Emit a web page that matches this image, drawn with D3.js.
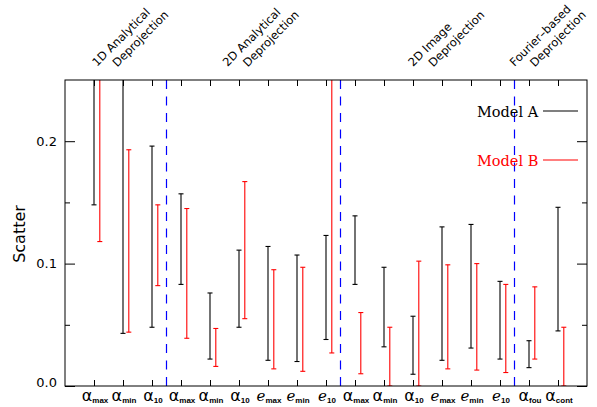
<html>
<script src='https://d3js.org/d3.v7.min.js'></script>
<style>
  body { margin: 0; background: white; }
  text { font-family: 'DejaVu Sans', sans-serif; }
</style>
<body>
<svg width=597 height=407></svg>
<script>
// ---- data ----
const symbols = ["α","α","α","α","α","α","e","e","e","α","α","α","e","e","e","α","α"];
const subs    = ["max","min","10","max","min","10","max","min","10","max","min","10","max","min","10","fou","cont"];
const modelAHigh = [0.30, 0.30, 0.196, 0.157, 0.076, 0.111, 0.114, 0.107, 0.123, 0.139, 0.097, 0.057, 0.130, 0.132, 0.0855, 0.037, 0.146];
const modelALow  = [0.148, 0.043, 0.048, 0.083, 0.022, 0.048, 0.021, 0.020, 0.038, 0.083, 0.032, 0.0096, 0.021, 0.031, 0.022, 0.015, 0.045];
const modelBHigh = [0.30, 0.193, 0.148, 0.145, 0.047, 0.167, 0.095, 0.097, 0.30, 0.060, 0.048, 0.102, 0.099, 0.100, 0.083, 0.081, 0.048];
const modelBLow  = [0.118, 0.044, 0.082, 0.039, 0.016, 0.055, 0.014, 0.012, 0.027, 0.010, 0.0, 0.0, 0.014, 0.013, 0.011, 0.022, 0.0];
const groupNames = [["1D Analytical", "Deprojection"], ["2D Analytical", "Deprojection"], ["2D Image", "Deprojection"], ["Fourier\u2013based", "Deprojection"]];
const groupAt = [1.1, 5.6, 12.0, 15.5];
const dividers = [3.5, 9.5, 15.5];
const yMajor = [0, 0.1, 0.2];
const yMinor = [0.05, 0.15];

var svg = d3.select("svg");
var pl = 65, pr = 587, pt = 80, pb = 386;

var x = d3.scaleLinear().domain([0, 18]).range([pl, pr]);
var y = d3.scaleLinear().domain([0, 0.25]).range([pb, pt]);
var idx = d3.range(symbols.length);

svg.append("clipPath").attr("id", "plotclip")
  .append("rect").attr("x", pl).attr("y", pt).attr("width", pr - pl).attr("height", pb - pt);

var plot = svg.append("g").attr("clip-path", "url(#plotclip)");

// dividers between the method groups
plot.selectAll(".divider").data(dividers).enter().append("line")
  .attr("x1", d => x(d)).attr("x2", d => x(d))
  .attr("y1", pt).attr("y2", pb)
  .attr("stroke", "#0000ff").attr("stroke-width", 1.2)
  .attr("stroke-dasharray", "9,7.5");

// error bars, model A at the tick, model B shifted right
function bars(low, high, shift, color) {
  var g = plot.append("g").attr("stroke", color).attr("stroke-width", 1.1);
  g.selectAll("line.v").data(idx).enter().append("line")
    .attr("x1", i => x(i + 1 + shift)).attr("x2", i => x(i + 1 + shift))
    .attr("y1", i => y(low[i])).attr("y2", i => y(high[i]));
  g.selectAll("line.lo").data(idx).enter().append("line")
    .attr("x1", i => x(i + 1 + shift) - 2.5).attr("x2", i => x(i + 1 + shift) + 2.5)
    .attr("y1", i => y(low[i])).attr("y2", i => y(low[i]));
  g.selectAll("line.hi").data(idx).enter().append("line")
    .attr("x1", i => x(i + 1 + shift) - 2.5).attr("x2", i => x(i + 1 + shift) + 2.5)
    .attr("y1", i => y(high[i])).attr("y2", i => y(high[i]));
}
bars(modelALow, modelAHigh, 0, "black");
bars(modelBLow, modelBHigh, 0.2, "#ff0000");

// axes, ticks pointing inward
function clean(g) { g.select(".domain").remove(); g.selectAll("line").attr("stroke", "black"); }

svg.append("g").attr("transform", "translate(" + pl + ",0)")
  .call(d3.axisLeft(y).tickValues(yMajor).tickSize(-10).tickPadding(8).tickFormat(d3.format(".1f")))
  .call(clean)
  .selectAll("text").style("font-size", "13px").style("font-family", "'DejaVu Sans', sans-serif").attr("fill", "black")
  .attr("y", d => d == 0 ? -4 : 0);
svg.append("g").attr("transform", "translate(" + pl + ",0)")
  .call(d3.axisLeft(y).tickValues(yMinor).tickSize(-5).tickFormat(""))
  .call(clean);
svg.append("g").attr("transform", "translate(" + pr + ",0)")
  .call(d3.axisRight(y).tickValues(yMajor).tickSize(-10).tickFormat(""))
  .call(clean);
svg.append("g").attr("transform", "translate(" + pr + ",0)")
  .call(d3.axisRight(y).tickValues(yMinor).tickSize(-5).tickFormat(""))
  .call(clean);
svg.append("g").attr("transform", "translate(0," + pb + ")")
  .call(d3.axisBottom(x).tickValues(idx.map(i => i + 1)).tickSize(-6).tickFormat(""))
  .call(clean);
svg.append("g").attr("transform", "translate(0," + pt + ")")
  .call(d3.axisTop(x).tickValues(idx.map(i => i + 1)).tickSize(-6).tickFormat(""))
  .call(clean);

svg.append("rect").attr("x", pl).attr("y", pt).attr("width", pr - pl).attr("height", pb - pt)
  .attr("fill", "none").attr("stroke", "black").attr("stroke-width", 1);

// x labels: symbol with subscript
var xl = svg.selectAll(".xlab").data(idx).enter().append("text")
  .attr("x", i => x(i + 1) + 1).attr("y", 401)
  .attr("text-anchor", "middle");
xl.append("tspan").text(i => symbols[i])
  .style("font-size", i => symbols[i] == "e" ? "15px" : "16px")
  .style("font-family", i => symbols[i] == "e" ? "'DejaVu Serif', serif" : "'DejaVu Sans', sans-serif")
  .style("font-style", i => symbols[i] == "e" ? "italic" : "normal");
xl.append("tspan").text(i => subs[i]).attr("dy", 2)
  .style("font-size", "8px").style("font-weight", "bold")
  .style("font-family", "'Liberation Sans', sans-serif");

// y title
svg.append("text").attr("transform", "translate(25,234) rotate(-90)")
  .attr("text-anchor", "middle").style("font-size", "16px").text("Scatter");

// group titles, rotated
var gt = svg.selectAll(".grp").data(groupNames).enter().append("g")
  .attr("transform", (d, i) => "translate(" + x(groupAt[i]) + ",67) rotate(-45)");
gt.append("text").style("font-size", "11.5px").text(d => d[0]);
gt.append("text").attr("x", 14).attr("y", 14.8).style("font-size", "11.5px").text(d => d[1]);

// legend
var legend = [["Model A", "black", 117], ["Model B", "#ff0000", 166]];
legend.forEach(function(l) {
  svg.append("text").attr("x", 477).attr("y", l[2]).attr("fill", l[1])
    .style("font-family", "'DejaVu Serif', serif").style("font-size", "14.5px").text(l[0]);
  svg.append("line").attr("x1", 543).attr("x2", 578).attr("y1", l[2] - 6).attr("y2", l[2] - 6)
    .attr("stroke", l[1]).attr("stroke-width", 1.2);
});
</script>
</body>
</html>
